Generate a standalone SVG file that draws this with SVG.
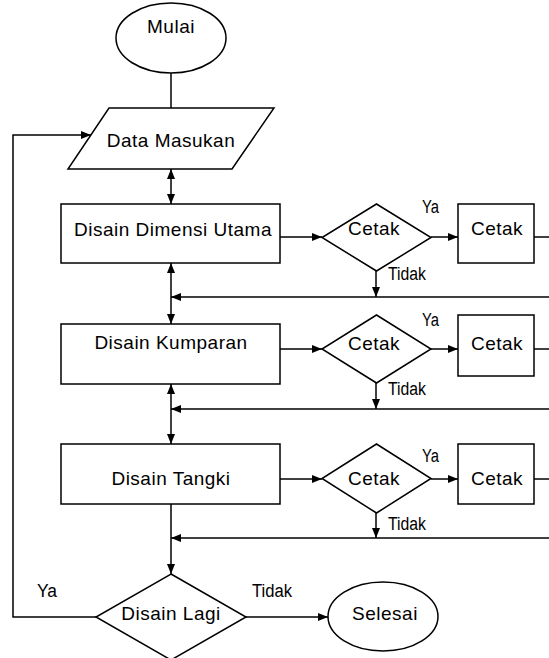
<svg xmlns="http://www.w3.org/2000/svg" width="549" height="658" viewBox="0 0 549 658">
<style>
.s{fill:#fff;stroke:#000;stroke-width:1.5}
.c{fill:none;stroke:#000;stroke-width:1.5}
.t{font-family:"Liberation Sans",Arial,sans-serif;font-size:19px;letter-spacing:0.5px;text-anchor:middle;fill:#000}
.n{font-family:"Liberation Sans",Arial,sans-serif;font-size:18px;fill:#000}
</style>
<defs>
<marker id="a" markerUnits="userSpaceOnUse" markerWidth="10" markerHeight="8" refX="10" refY="4" orient="auto-start-reverse">
<path d="M0,0 L10,4 L0,8 z" fill="#000"/>
</marker>
</defs>
<rect width="549" height="658" fill="#fff"/>
<g id="connectors">
<line class="c" x1="171" y1="73" x2="171" y2="108"/>
<path class="c" d="M96,617 H13 V135 H91" marker-end="url(#a)"/>
<line class="c" x1="171" y1="169" x2="171" y2="204" marker-start="url(#a)" marker-end="url(#a)"/>
<line class="c" x1="280" y1="237" x2="322" y2="237" marker-end="url(#a)"/>
<line class="c" x1="431" y1="237" x2="458" y2="237" marker-end="url(#a)"/>
<line class="c" x1="534" y1="237" x2="552" y2="237"/>
<line class="c" x1="376" y1="271" x2="376" y2="297" marker-end="url(#a)"/>
<line class="c" x1="552" y1="297" x2="171" y2="297" marker-end="url(#a)"/>
<line class="c" x1="171" y1="263" x2="171" y2="324" marker-start="url(#a)" marker-end="url(#a)"/>
<line class="c" x1="280" y1="349" x2="322" y2="349" marker-end="url(#a)"/>
<line class="c" x1="431" y1="349" x2="458" y2="349" marker-end="url(#a)"/>
<line class="c" x1="534" y1="349" x2="552" y2="349"/>
<line class="c" x1="376" y1="383" x2="376" y2="409" marker-end="url(#a)"/>
<line class="c" x1="552" y1="409" x2="171" y2="409" marker-end="url(#a)"/>
<line class="c" x1="171" y1="384" x2="171" y2="444" marker-start="url(#a)" marker-end="url(#a)"/>
<line class="c" x1="280" y1="479" x2="322" y2="479" marker-end="url(#a)"/>
<line class="c" x1="431" y1="479" x2="458" y2="479" marker-end="url(#a)"/>
<line class="c" x1="534" y1="479" x2="552" y2="479"/>
<line class="c" x1="376" y1="513" x2="376" y2="538" marker-end="url(#a)"/>
<line class="c" x1="552" y1="538" x2="171" y2="538" marker-end="url(#a)"/>
<line class="c" x1="171" y1="504" x2="171" y2="574" marker-end="url(#a)"/>
<line class="c" x1="246" y1="617" x2="328" y2="617" marker-end="url(#a)"/>
<text class="n" x="422" y="213" textLength="17" lengthAdjust="spacingAndGlyphs">Ya</text>
<text class="n" x="388" y="280" textLength="38" lengthAdjust="spacingAndGlyphs">Tidak</text>
<text class="n" x="422" y="326" textLength="17" lengthAdjust="spacingAndGlyphs">Ya</text>
<text class="n" x="388" y="395" textLength="38" lengthAdjust="spacingAndGlyphs">Tidak</text>
<text class="n" x="422" y="462" textLength="17" lengthAdjust="spacingAndGlyphs">Ya</text>
<text class="n" x="388" y="530" textLength="38" lengthAdjust="spacingAndGlyphs">Tidak</text>
<text class="n" x="37" y="597" textLength="20" lengthAdjust="spacingAndGlyphs">Ya</text>
<text class="n" x="252" y="597" textLength="40" lengthAdjust="spacingAndGlyphs">Tidak</text>
</g>
<g id="mulai">
<ellipse class="s" cx="171" cy="38" rx="55" ry="35"/>
<text class="t" x="171" y="33">Mulai</text>
</g>
<g id="data-masukan">
<polygon class="s" points="109,108 274,108 232,169 68,169"/>
<text class="t" x="171" y="147">Data Masukan</text>
</g>
<g id="disain-dimensi-utama">
<rect class="s" x="61" y="204" width="219" height="59"/>
<text class="t" x="173" y="236">Disain Dimensi Utama</text>
</g>
<g id="cetak-decision-1">
<polygon class="s" points="376.5,204 431,237.5 376.5,271 322,237.5"/>
<text class="t" x="374" y="235">Cetak</text>
</g>
<g id="cetak-1">
<rect class="s" x="458" y="204" width="76" height="59"/>
<text class="t" x="497" y="235">Cetak</text>
</g>
<g id="disain-kumparan">
<rect class="s" x="61" y="324" width="219" height="60"/>
<text class="t" x="171" y="349">Disain Kumparan</text>
</g>
<g id="cetak-decision-2">
<polygon class="s" points="376.5,315 431,349 376.5,383 322,349"/>
<text class="t" x="374" y="350">Cetak</text>
</g>
<g id="cetak-2">
<rect class="s" x="458" y="315" width="76" height="61"/>
<text class="t" x="497" y="350">Cetak</text>
</g>
<g id="disain-tangki">
<rect class="s" x="61" y="444" width="219" height="60"/>
<text class="t" x="171" y="485">Disain Tangki</text>
</g>
<g id="cetak-decision-3">
<polygon class="s" points="376.5,444 431,478.5 376.5,513 322,478.5"/>
<text class="t" x="374" y="485">Cetak</text>
</g>
<g id="cetak-3">
<rect class="s" x="458" y="444" width="76" height="60"/>
<text class="t" x="497" y="485">Cetak</text>
</g>
<g id="disain-lagi">
<polygon class="s" points="171,574 246,617 171,660 96,617"/>
<text class="t" x="171" y="620">Disain Lagi</text>
</g>
<g id="selesai">
<ellipse class="s" cx="383" cy="616.5" rx="55" ry="34.5"/>
<text class="t" x="385" y="620">Selesai</text>
</g>
</svg>
